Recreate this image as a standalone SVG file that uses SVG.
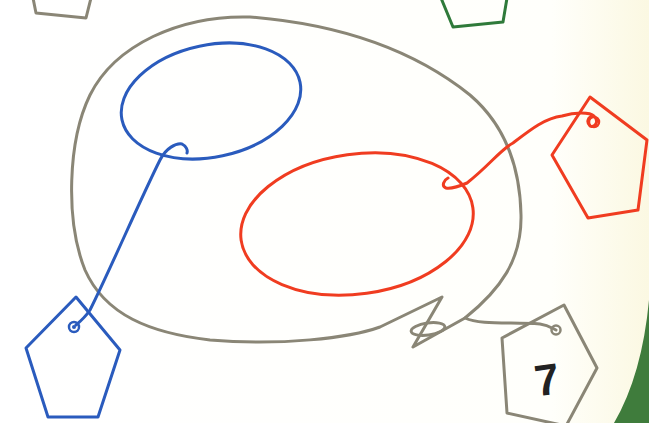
<svg xmlns="http://www.w3.org/2000/svg" width="649" height="423" viewBox="0 0 649 423">
<defs>
<linearGradient id="bg" x1="0" y1="0" x2="1" y2="0">
<stop offset="0" stop-color="#ffffff"/>
<stop offset="0.85" stop-color="#fffffb"/>
<stop offset="1" stop-color="#fbf8e2"/>
</linearGradient>
<style>
.gray{fill:none;stroke:#8a8676;stroke-width:3;stroke-linejoin:round;stroke-linecap:round}
.blue{fill:none;stroke:#2a5bbd;stroke-width:3;stroke-linejoin:round;stroke-linecap:round}
.red{fill:none;stroke:#f03c20;stroke-width:3;stroke-linejoin:round;stroke-linecap:round}
.green{fill:none;stroke:#2f7a3a;stroke-width:3;stroke-linejoin:round}
.lbl{font-family:"Liberation Sans",Arial,sans-serif;font-weight:bold;font-size:44px;fill:#222}
</style>
</defs>
<rect width="649" height="423" fill="url(#bg)"/>
<path d="M649,300 Q642,375 614,423 L649,423 Z" fill="#3f7c3c"/>

<g id="tag-topleft"><polyline class="gray" points="33,-2 36,13 86,18 91,-2"/></g>
<g id="tag-topgreen"><polyline class="green" points="441,-2 453,27 503,22 507,-2"/></g>

<g id="region-gray">
<path class="gray" d="M465,318 C500,290 522,260 521,215 C520,165 505,125 470,95 C420,55 350,25 250,17 C180,15 115,45 90,95 C68,140 65,220 85,270 C105,315 150,333 210,340 C280,346 350,338 380,327 L442,297 L413,347 Z"/>
</g>
<g id="region-blue"><ellipse class="blue" cx="211" cy="101" rx="91" ry="56" transform="rotate(-12 211 101)"/></g>
<g id="region-red"><ellipse class="red" cx="357" cy="224" rx="117" ry="70" transform="rotate(-8 357 224)"/></g>

<g id="connectors">
<path class="blue" d="M76,325 C82,320 86,316 90,310 C110,270 140,200 160,160 C166,148 176,143 182,144 C186,146 188,150 187,153"/>
<path class="red" d="M448,178 C444,180 441,186 446,188 C452,189 460,186 467,183 C490,165 500,150 513,143 C530,130 545,118 562,116 C575,112 590,112 594,116 C600,122 594,128 590,126 C586,122 588,117 593,116"/>
<path class="gray" d="M465,318 C480,325 510,322 540,324 C548,325 552,328 556,330"/>
<ellipse class="gray" cx="428" cy="329" rx="17" ry="6" transform="rotate(-8 428 329)"/>
</g>

<g id="tag-blue">
<polygon class="blue" points="76,297 120,350 98,417 48,417 26,348"/>
<circle cx="74" cy="327" r="5" fill="none" stroke="#2a5bbd" stroke-width="2.5"/>
<circle cx="74" cy="327" r="2" fill="#2a5bbd"/>
</g>
<g id="tag-red">
<polygon class="red" points="590,97 647,140 638,210 588,218 552,155"/>
<circle cx="594" cy="122" r="5" fill="none" stroke="#f03c20" stroke-width="2.5"/>
</g>
<g id="tag-7">
<polygon class="gray" points="564,305 597,368 566,426 507,413 502,338"/>
<circle cx="556" cy="330" r="4.5" fill="none" stroke="#8a8676" stroke-width="2.5"/>
<text class="lbl" x="547" y="395" text-anchor="middle" transform="rotate(-8 547 380)">7</text>
</g>
</svg>
